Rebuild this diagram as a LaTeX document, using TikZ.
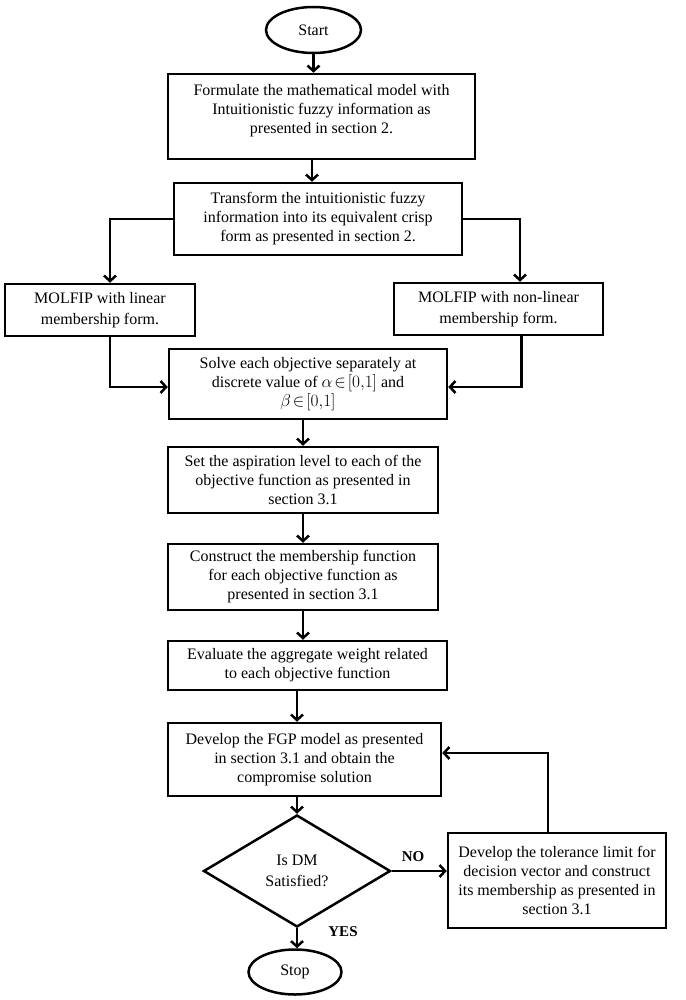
\documentclass[tikz,border=0pt]{standalone}
\usepackage{fontspec}
\setmainfont{Liberation Serif}
\usetikzlibrary{arrows.meta,shapes.geometric,calc}
\begin{document}
\begin{tikzpicture}[x=1pt,y=-1pt,
  every node/.style={font=\fontsize{16}{19}\selectfont},
  box/.style={draw, line width=2.5pt, rectangle, align=center, inner sep=2pt},
  term/.style={draw, line width=2.5pt, ellipse, inner sep=0pt},
  decision/.style={draw, line width=2.5pt, diamond, aspect=1.67, inner sep=0pt, align=center},
  arr/.style={line width=2.5pt, -{Straight Barb[length=5.5pt,width=12pt]}},
  lbl/.style={font=\bfseries\fontsize{15}{17}\selectfont}]
\useasboundingbox (0,0) rectangle (685,1000);

\node[term, minimum width=95pt, minimum height=46pt] (start) at (313.5,30) {Start};
\node[box, minimum width=307pt, minimum height=85pt] (box1) at (321.5,116.5)
  {Formulate the mathematical model with\\Intuitionistic fuzzy information as\\presented in section 2.\\[-4pt]\mbox{}};
\node[box, minimum width=288pt, minimum height=72pt] (box2) at (318,219)
  {Transform the intuitionistic fuzzy\\information into its equivalent crisp\\form as presented in section 2.};
\node[box, minimum width=190pt, minimum height=52pt] (boxL) at (100,310)
  {MOLFIP with linear\\[2pt]membership form.};
\node[box, minimum width=209pt, minimum height=52pt] (boxR) at (498.5,309)
  {MOLFIP with non-linear\\[2pt]membership form.};
\node[box, minimum width=278pt, minimum height=70pt] (solve) at (308,384)
  {Solve each objective separately at\\discrete value of $\alpha\!\in\![0,\!1]$ and\\$\beta\!\in\![0,\!1]$};
\node[box, minimum width=270pt, minimum height=66pt] (set) at (303,480)
  {Set the aspiration level to each of the\\objective function as presented in\\section 3.1};
\node[box, minimum width=270pt, minimum height=66pt] (cons) at (303,577)
  {Construct the membership function\\for each objective function as\\presented in section 3.1};
\node[box, minimum width=279pt, minimum height=49pt] (eval) at (307.5,665.5)
  {Evaluate the aggregate weight related\\to each objective function};
\node[box, minimum width=273pt, minimum height=73pt] (fgp) at (304.5,759.5)
  {Develop the FGP model as presented\\in section 3.1 and obtain the\\compromise solution};
\node[decision, minimum width=187pt, minimum height=112pt] (dm) at (297,871)
  {Is DM\\[2pt]Satisfied?};
\node[box, minimum width=218pt, minimum height=95pt] (tol) at (557,880.5)
  {Develop the tolerance limit for\\decision vector and construct\\its membership as presented in\\section 3.1};
\node[term, minimum width=93pt, minimum height=45pt] (stop) at (295,972) {Stop};
\node[lbl] (no) at (413,857) {NO};
\node[lbl] (yes) at (343,932) {YES};

\draw[arr] (start.south) -- (start.south |- box1.north);
\draw[arr] ($(box2.north)+(-6,-24)$) -- ($(box2.north)+(-6,0)$);
\draw[arr] (box2.west) -| ($(boxL.north)+(10,0)$);
\draw[arr] (box2.east) -| ($(boxR.north)+(21.5,0)$);
\draw[arr] ($(boxL.south)+(10,0)$) |- ($(solve.west)+(0,3)$);
\draw[arr] ($(boxR.south)+(23,0)$) |- ($(solve.east)+(0,3)$);
\draw[arr] (solve.south -| set.north) -- (set.north);
\draw[arr] (set.south) -- (cons.north);
\draw[arr] (cons.south) -- (cons.south |- eval.north);
\draw[arr] (eval.south -| dm.north) -- (fgp.north -| dm.north);
\draw[arr] (fgp.south -| dm.north) -- (dm.north);
\draw[arr] (dm.south) -- (dm.south |- stop.north);
\draw[arr] (dm.east) -- (dm.east -| tol.west);
\draw[arr] ($(tol.north)+(-9,0)$) |- ($(fgp.east)+(0,-6.5)$);
\end{tikzpicture}
\end{document}
